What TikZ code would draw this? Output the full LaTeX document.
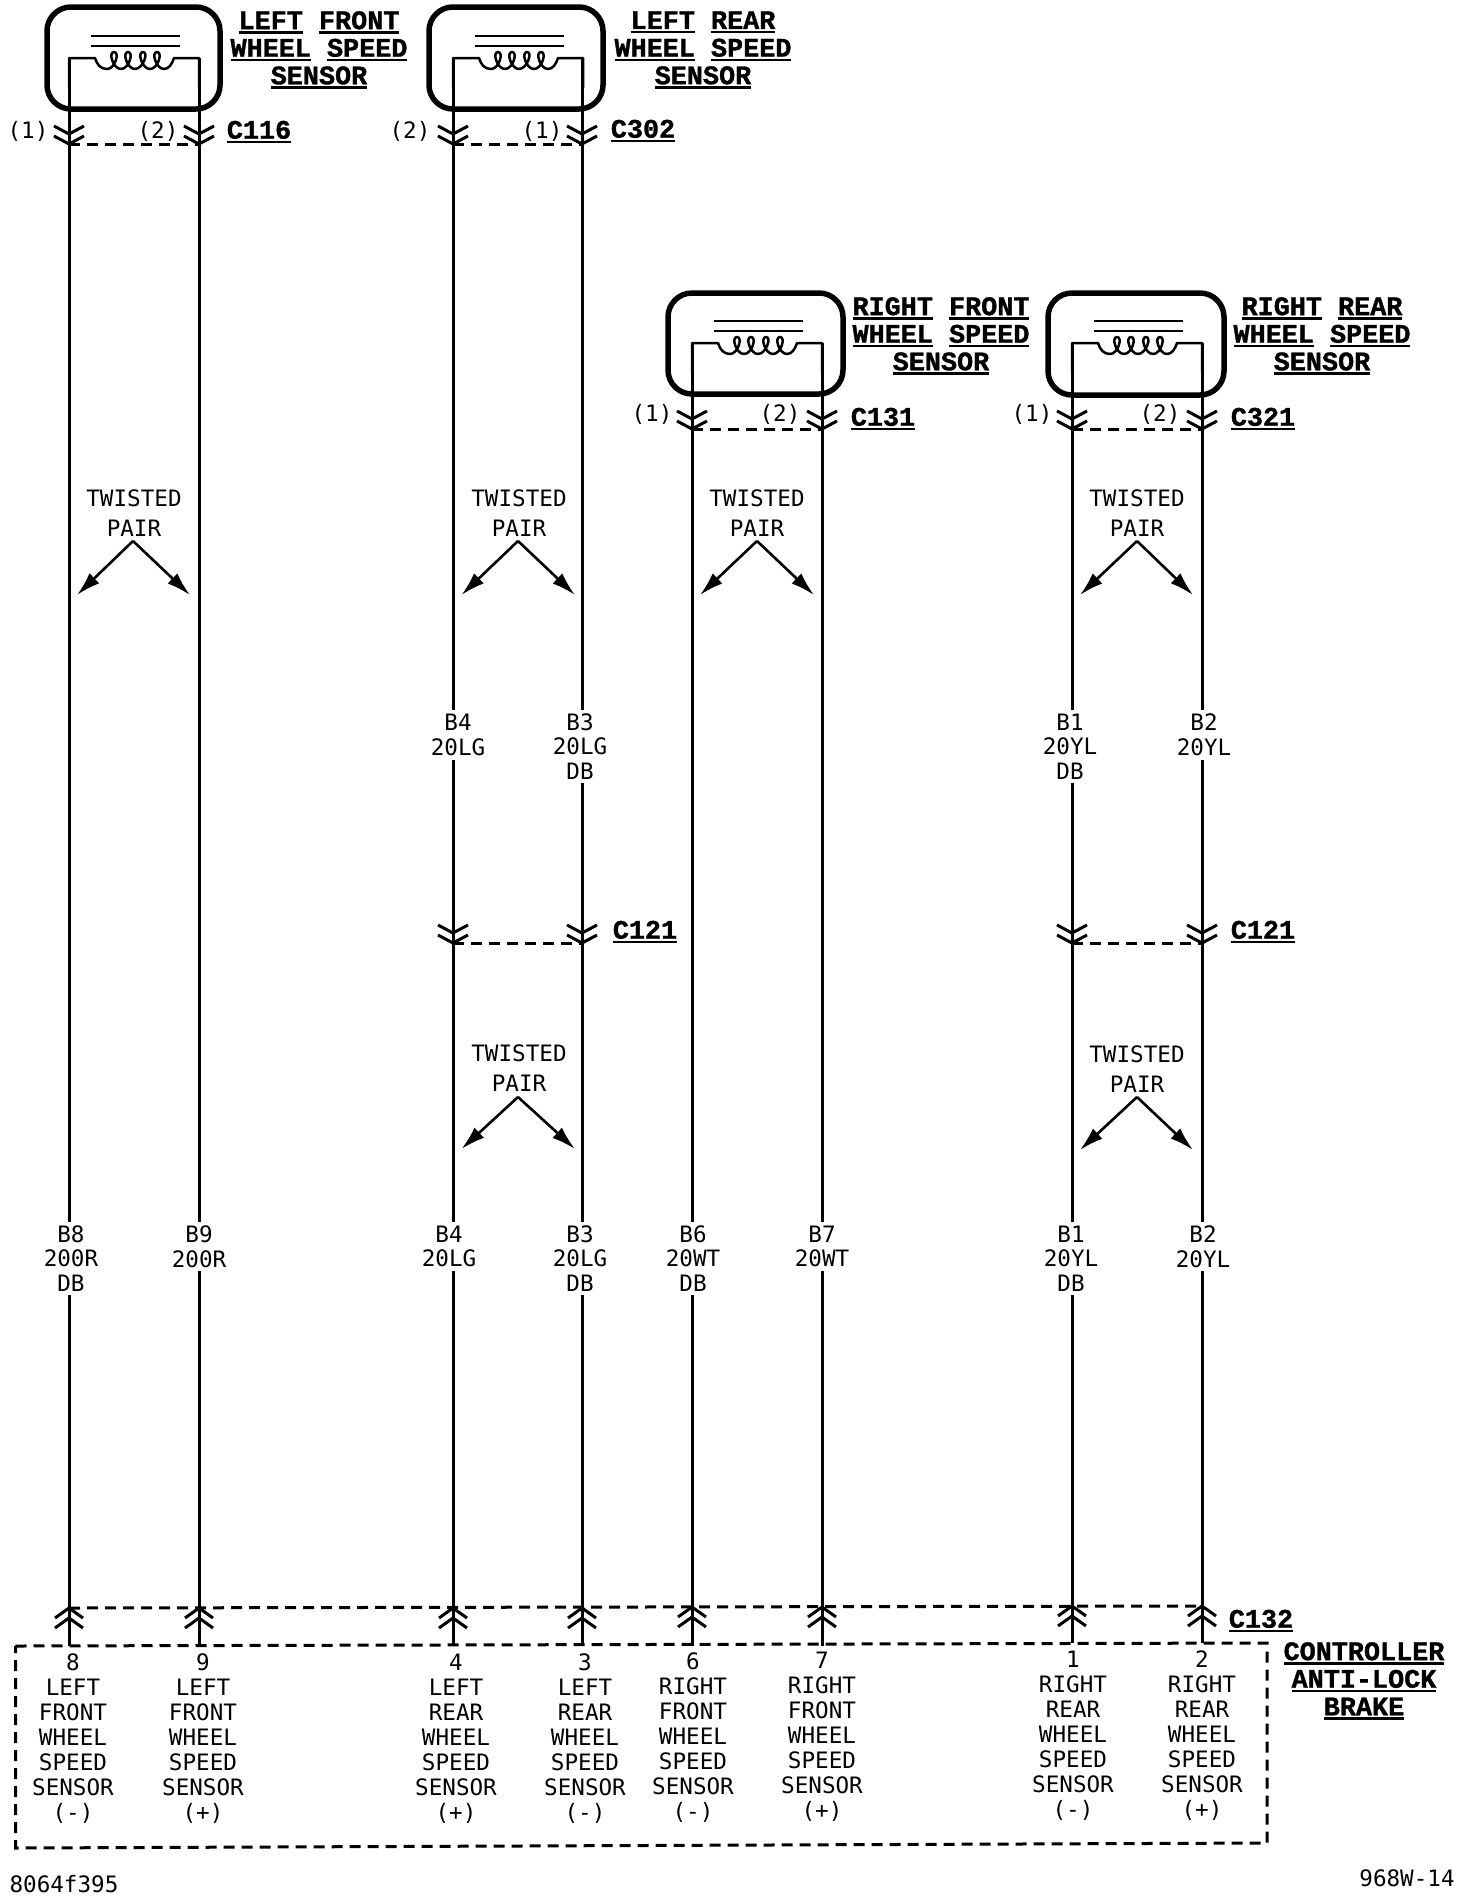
\documentclass[tikz,border=0pt]{standalone}
\usepackage{fontspec}
\usetikzlibrary{arrows.meta}
\newfontfamily\regf{DejaVu Sans Mono}
\newfontfamily\hdf{Liberation Mono}[BoldFeatures={FakeBold=1.2}]
\newcommand\ulw[1]{\setbox0=\hbox{#1}\rlap{\rule[-4.5pt]{\wd0}{2.5pt}}\box0\relax}
\tikzset{
  wireline/.style={line width=3pt,line cap=butt},
  dashline/.style={line width=3pt,dash pattern=on 11pt off 7pt},
  chevline/.style={line width=3pt,line cap=butt,line join=miter},
  boxline/.style={line width=5.5pt,rounded corners=24pt,draw,inner sep=0pt},
  barline/.style={line width=2.5pt},
  coilline/.style={line width=2.5pt,line join=round},
  small/.style={inner sep=0pt,align=center,font=\regf\fontsize{22.6}{24.6}\selectfont},
  wlab/.style={small},
  tw/.style={inner sep=0pt,align=center,font=\regf\fontsize{22.6}{30}\selectfont},
  hdr/.style={inner sep=0pt,align=center,font=\hdf\bfseries\fontsize{26.8}{27.6}\selectfont},
  col/.style={inner sep=0pt,align=center,font=\regf\fontsize{22.6}{25}\selectfont},
  tparrow/.style={line width=2.6pt,-{Latex[length=24pt,width=14pt]}},
  chevd/.pic={\draw[chevline] (-15,-18)--(0,-10)--(15,-18) (-15,-8)--(0,0)--(15,-8);},
  chevu/.pic={\draw[chevline] (-14,10)--(0,0)--(14,10) (-14,20)--(0,10)--(14,20);},
  coil/.pic={
    \draw[barline] (22,-22)--(111,-22) (22,-12)--(111,-12);
    \draw[coilline] (0,30)--(0,0)--(26,0) .. controls (28,7) and (32,11) .. (38,11)
      .. controls (46,11) and (51,-6) .. (45,-6) .. controls (39,-6) and (44,11) .. (52,11)
      .. controls (60,11) and (65,-6) .. (59,-6) .. controls (53,-6) and (58,11) .. (66,11)
      .. controls (74,11) and (80,-6) .. (74,-6) .. controls (68,-6) and (73,11) .. (81,11)
      .. controls (89,11) and (94,-6) .. (88,-6) .. controls (82,-6) and (87,11) .. (95,11)
      .. controls (100,11) and (103,6) .. (105,0) -- (130,0) -- (130,30);}
}
\begin{document}
\begin{tikzpicture}[x=1pt,y=-1pt]
\useasboundingbox[fill=white] (0,0) rectangle (1472,1898);

% wire tops (inside the sensors)
\coordinate (t1) at (69,58);   \coordinate (t2) at (199,58);
\coordinate (t3) at (453,58);  \coordinate (t4) at (582,58);
\coordinate (t5) at (692,343); \coordinate (t6) at (822,343);
\coordinate (t7) at (1072,343);\coordinate (t8) at (1202,343);
% sensor connectors
\coordinate (a1) at (69,144);  \coordinate (a2) at (199,144);
\coordinate (a3) at (453,144); \coordinate (a4) at (582,144);
\coordinate (a5) at (692,429); \coordinate (a6) at (822,429);
\coordinate (a7) at (1072,429);\coordinate (a8) at (1202,429);
% C121
\coordinate (m3) at (453,943); \coordinate (m4) at (582,943);
\coordinate (m7) at (1072,943);\coordinate (m8) at (1202,943);
% C132
\coordinate (b1) at (69,1608); \coordinate (b2) at (199,1608);
\coordinate (b3) at (453,1608);\coordinate (b4) at (582,1608);
\coordinate (b5) at (692,1607);\coordinate (b6) at (822,1607);
\coordinate (b7) at (1072,1606);\coordinate (b8) at (1202,1606);
% controller outline
\coordinate (k1) at (15.5,1646); \coordinate (k2) at (1267,1643);
\coordinate (k3) at (1267,1843); \coordinate (k4) at (15.5,1848);

% sensors
\node[boxline,minimum width=173pt,minimum height=102pt] (S1) at (133.5,58) {};
\node[boxline,minimum width=174pt,minimum height=102pt] (S2) at (516,58) {};
\node[boxline,minimum width=175pt,minimum height=101pt] (S3) at (755.5,343.5) {};
\node[boxline,minimum width=176pt,minimum height=102pt] (S4) at (1136,344) {};
\pic at (t1) {coil}; \pic at (t3) {coil}; \pic at (t5) {coil}; \pic at (t7) {coil};

% headings
\node[hdr] (h1) at (319,50) {\ulw{LEFT} \ulw{FRONT}\\\ulw{WHEEL} \ulw{SPEED}\\\ulw{SENSOR}};
\node[hdr] (h2) at (703,50) {\ulw{LEFT} \ulw{REAR}\\\ulw{WHEEL} \ulw{SPEED}\\\ulw{SENSOR}};
\node[hdr] (h3) at (941,336) {\ulw{RIGHT} \ulw{FRONT}\\\ulw{WHEEL} \ulw{SPEED}\\\ulw{SENSOR}};
\node[hdr] (h4) at (1322,336) {\ulw{RIGHT} \ulw{REAR}\\\ulw{WHEEL} \ulw{SPEED}\\\ulw{SENSOR}};
\node[hdr] (h5) at (1364,1681) {\ulw{CONTROLLER}\\\ulw{ANTI-LOCK}\\\ulw{BRAKE}};

% connector names
\node[hdr] (c116) at (259,132) {\ulw{C116}};
\node[hdr] (c302) at (643,131) {\ulw{C302}};
\node[hdr] (c131) at (883,419) {\ulw{C131}};
\node[hdr] (c321) at (1263,419) {\ulw{C321}};
\node[hdr] (c121a) at (645,932) {\ulw{C121}};
\node[hdr] (c121b) at (1263,932) {\ulw{C121}};
\node[hdr] (c132) at (1261,1621) {\ulw{C132}};

% pin numbers
\node[small] (p1) at (28,131) {(1)};
\node[small] (p2) at (158,131) {(2)};
\node[small] (p3) at (410,131) {(2)};
\node[small] (p4) at (542,131) {(1)};
\node[small] (p5) at (652,414) {(1)};
\node[small] (p6) at (780,414) {(2)};
\node[small] (p7) at (1032,414) {(1)};
\node[small] (p8) at (1160,414) {(2)};

% wire labels, upper row
\node[wlab,minimum height=50pt] (u3) at (458,735) {B4\\20LG};
\node[wlab,minimum height=73pt] (u4) at (580,746.5) {B3\\20LG\\DB};
\node[wlab,minimum height=73pt] (u7) at (1070,746.5) {B1\\20YL\\DB};
\node[wlab,minimum height=50pt] (u8) at (1204,735) {B2\\20YL};
% wire labels, lower row
\node[wlab,minimum height=73pt] (l1) at (71,1258.5) {B8\\200R\\DB};
\node[wlab,minimum height=49pt] (l2) at (199,1246.5) {B9\\200R};
\node[wlab,minimum height=49pt] (l3) at (449,1246.5) {B4\\20LG};
\node[wlab,minimum height=73pt] (l4) at (580,1258.5) {B3\\20LG\\DB};
\node[wlab,minimum height=73pt] (l5) at (693,1258.5) {B6\\20WT\\DB};
\node[wlab,minimum height=49pt] (l6) at (822,1246.5) {B7\\20WT};
\node[wlab,minimum height=73pt] (l7) at (1071,1258.5) {B1\\20YL\\DB};
\node[wlab,minimum height=49pt] (l8) at (1203,1246.5) {B2\\20YL};

% wires
\draw[wireline] (t1) -- (l1.north -| t1) (l1.south -| t1) -- (k1 -| t1);
\draw[wireline] (t2) -- (l2.north -| t2) (l2.south -| t2) -- (k1 -| t2);
\draw[wireline] (t3) -- (u3.north -| t3) (u3.south -| t3) -- (l3.north -| t3) (l3.south -| t3) -- (k1 -| t3);
\draw[wireline] (t4) -- (u4.north -| t4) (u4.south -| t4) -- (l4.north -| t4) (l4.south -| t4) -- (k1 -| t4);
\draw[wireline] (t5) -- (l5.north -| t5) (l5.south -| t5) -- (k1 -| t5);
\draw[wireline] (t6) -- (l6.north -| t6) (l6.south -| t6) -- (k1 -| t6);
\draw[wireline] (t7) -- (u7.north -| t7) (u7.south -| t7) -- (l7.north -| t7) (l7.south -| t7) -- (k2 -| t7);
\draw[wireline] (t8) -- (u8.north -| t8) (u8.south -| t8) -- (l8.north -| t8) (l8.south -| t8) -- (k2 -| t8);

% connectors
\foreach \n in {a1,a2,a3,a4,a5,a6,a7,a8,m3,m4,m7,m8} {\pic at (\n) {chevd};}
\foreach \n in {b1,b2,b3,b4,b5,b6,b7,b8} {\pic at (\n) {chevu};}
\draw[dashline] (a1) -- (a2);
\draw[dashline] (a3) -- (a4);
\draw[dashline] (a5) -- (a6);
\draw[dashline] (a7) -- (a8);
\draw[dashline] (m3) -- (m4);
\draw[dashline] (m7) -- (m8);
\draw[dashline] (b1) -- (b8);
\draw[dashline] (k1) -- (k2) -- (k3) -- (k4) -- cycle;

% twisted pairs
\node[tw] (tw1) at (134,513.5) {TWISTED\\PAIR};
\node[tw] (tw2) at (519,513.5) {TWISTED\\PAIR};
\node[tw] (tw3) at (757,513.5) {TWISTED\\PAIR};
\node[tw] (tw4) at (1137,513.5) {TWISTED\\PAIR};
\node[tw] (tw5) at (519,1068.5) {TWISTED\\PAIR};
\node[tw] (tw6) at (1137,1069) {TWISTED\\PAIR};
\coordinate (ap1) at (133,541);  \coordinate (ap2) at (518,541);
\coordinate (ap3) at (757,541);  \coordinate (ap4) at (1137,541);
\coordinate (ap5) at (518,1097); \coordinate (ap6) at (1137,1097);
\coordinate (tl1) at (77,595);   \coordinate (tr1) at (190,595);
\coordinate (tl2) at (461.5,595);\coordinate (tr2) at (575,595);
\coordinate (tl3) at (700,595);  \coordinate (tr3) at (814,595);
\coordinate (tl4) at (1080,595); \coordinate (tr4) at (1193,595);
\coordinate (tl5) at (461.5,1149);\coordinate (tr5) at (575,1149);
\coordinate (tl6) at (1080,1150);\coordinate (tr6) at (1193,1150);
\foreach \i in {1,...,6} {\draw[tparrow] (ap\i) -- (tl\i); \draw[tparrow] (ap\i) -- (tr\i);}

% controller pin descriptions
\node[col] (d1) at (73,1739) {8\\LEFT\\FRONT\\WHEEL\\SPEED\\SENSOR\\(-)};
\node[col] (d2) at (203,1739) {9\\LEFT\\FRONT\\WHEEL\\SPEED\\SENSOR\\(+)};
\node[col] (d3) at (456,1738.5) {4\\LEFT\\REAR\\WHEEL\\SPEED\\SENSOR\\(+)};
\node[col] (d4) at (585,1738.5) {3\\LEFT\\REAR\\WHEEL\\SPEED\\SENSOR\\(-)};
\node[col] (d5) at (693,1738) {6\\RIGHT\\FRONT\\WHEEL\\SPEED\\SENSOR\\(-)};
\node[col] (d6) at (822,1737) {7\\RIGHT\\FRONT\\WHEEL\\SPEED\\SENSOR\\(+)};
\node[col] (d7) at (1073,1736) {1\\RIGHT\\REAR\\WHEEL\\SPEED\\SENSOR\\(-)};
\node[col] (d8) at (1202,1736) {2\\RIGHT\\REAR\\WHEEL\\SPEED\\SENSOR\\(+)};

% drawing codes
\node[small] (code1) at (64,1884) {8064f395};
\node[small] (code2) at (1407,1878) {968W-14};
\end{tikzpicture}
\end{document}
